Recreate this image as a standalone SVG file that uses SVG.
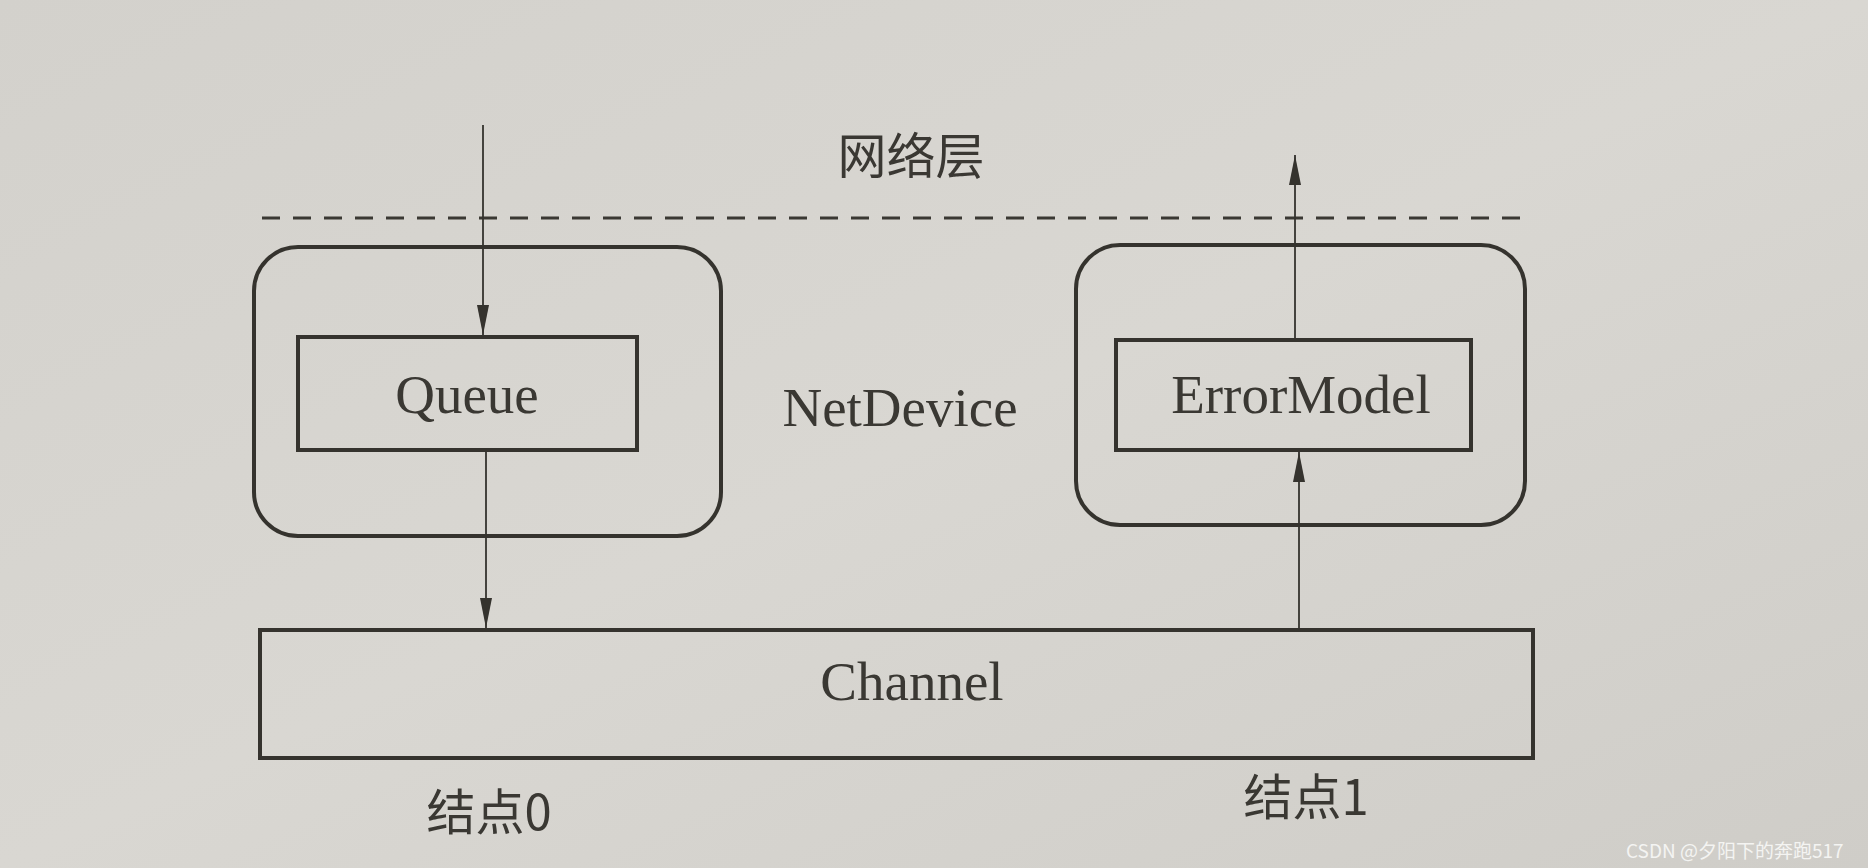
<svg xmlns="http://www.w3.org/2000/svg" width="1868" height="868" viewBox="0 0 1868 868">
  <defs>
    <linearGradient id="bg" x1="0" y1="0" x2="1" y2="1">
      <stop offset="0" stop-color="#d3d1cc"/>
      <stop offset="0.5" stop-color="#d9d7d2"/>
      <stop offset="1" stop-color="#cfcdc8"/>
    </linearGradient>
    <marker id="arr" viewBox="0 0 30 12" refX="30" refY="6" markerWidth="30" markerHeight="12" markerUnits="userSpaceOnUse" orient="auto">
      <path d="M0,0 L30,6 L0,12 Z" fill="#35332e"/>
    </marker>
    <style>
      .box { fill: none; stroke: #35332e; stroke-width: 4; }
      .inner { fill: none; stroke: #35332e; stroke-width: 4; }
      .lbl { font-family: "Liberation Serif", "Times New Roman", serif; font-size: 55px; fill: #3a3833; text-anchor: middle; }
      .cjk { font-family: "Noto Sans CJK SC", "Noto Sans", sans-serif; font-size: 49px; fill: #3a3833; text-anchor: middle; }
      .conn { stroke: #35332e; stroke-width: 1.8; fill: none; }
    </style>
  </defs>
  <rect x="0" y="0" width="1868" height="868" fill="url(#bg)"/>

  <g id="network-layer">
    <text class="cjk" x="911" y="174">网络层</text>
    <line x1="262" y1="218" x2="1525" y2="218" stroke="#3a3833" stroke-width="3" stroke-dasharray="18 13"/>
  </g>

  <g id="node0-netdevice">
    <rect class="box" x="254" y="247" width="467" height="289" rx="44" ry="44"/>
  </g>
  <g id="queue">
    <rect class="inner" x="298" y="337" width="339" height="113"/>
    <text class="lbl" x="467" y="413">Queue</text>
  </g>

  <g id="netdevice-label">
    <text class="lbl" x="900" y="426">NetDevice</text>
  </g>

  <g id="node1-netdevice">
    <rect class="box" x="1076" y="245" width="449" height="280" rx="44" ry="44"/>
  </g>
  <g id="errormodel">
    <rect class="inner" x="1116" y="340" width="355" height="110"/>
    <text class="lbl" x="1301" y="413">ErrorModel</text>
  </g>

  <g id="channel">
    <rect class="box" x="260" y="630" width="1273" height="128"/>
    <text class="lbl" x="912" y="700">Channel</text>
  </g>

  <g id="node-labels">
    <text class="cjk" x="489" y="830">结点0</text>
    <text class="cjk" x="1306" y="815">结点1</text>
  </g>

  <g id="connectors">
    <line class="conn" x1="483" y1="125" x2="483" y2="335" marker-end="url(#arr)"/>
    <line class="conn" x1="486" y1="452" x2="486" y2="628" marker-end="url(#arr)"/>
    <line class="conn" x1="1299" y1="628" x2="1299" y2="452" marker-end="url(#arr)"/>
    <line class="conn" x1="1295" y1="338" x2="1295" y2="155" marker-end="url(#arr)"/>
  </g>

  <text x="1626" y="858" font-family="Noto Sans CJK SC, Noto Sans, sans-serif" font-size="19" fill="#f4f4f2">CSDN @夕阳下的奔跑517</text>
</svg>
